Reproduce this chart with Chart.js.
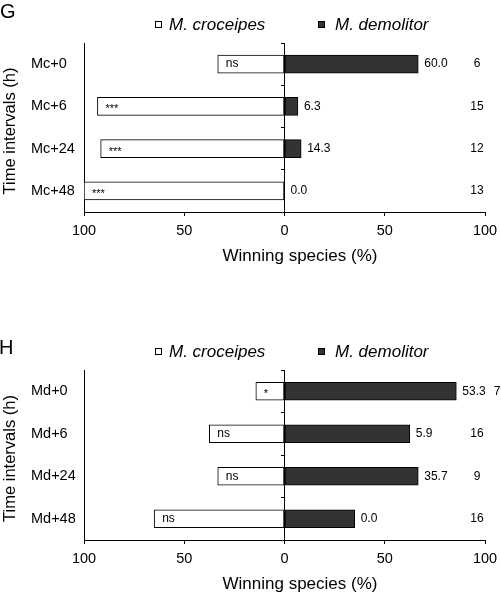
<!DOCTYPE html>
<html>
<head>
<meta charset="utf-8">
<script src="https://cdn.jsdelivr.net/npm/chart.js@4"></script>
<style>
  html, body { margin: 0; padding: 0; background: #fff; }
  #wrap { position: relative; width: 501px; height: 600px; }
  canvas { position: absolute; left: 0; }
</style>
</head>
<body>
<div id="wrap">
  <canvas id="chartG" width="501" height="300" style="top:0"></canvas>
  <canvas id="chartH" width="501" height="300" style="top:300px"></canvas>
</div>
<script>
// series names
const seriesNames = ['M. croceipes', 'M. demolitor'];

// panel G
const catsG = ['Mc+0', 'Mc+6', 'Mc+24', 'Mc+48'];
const crocG = [33.3, 93.3, 91.7, 100];
const demoG = [66.7, 6.7, 8.3, 0];
const valLabelsG = ['60.0', '6.3', '14.3', '0.0'];
const countsG = [6, 15, 12, 13];
const sigG = ['ns', '***', '***', '***'];

// panel H
const catsH = ['Md+0', 'Md+6', 'Md+24', 'Md+48'];
const crocH = [14.3, 37.5, 33.3, 65];
const demoH = [85.7, 62.5, 66.7, 35];
const valLabelsH = ['53.3', '5.9', '35.7', '0.0'];
const countsH = [7, 16, 9, 16];
const sigH = ['*', 'ns', 'ns', 'ns'];

// x axis ticks (left side shown as positive)
const xTicks = [-100, -50, 0, 50, 100];

const FAM = "'Liberation Sans', Arial, sans-serif";
Chart.defaults.font.family = FAM;
Chart.defaults.color = '#000';

// labels, legend, axis titles and panel letter
const annotPlugin = {
  id: 'annot',
  afterDraw(chart, args, opts) {
    const {ctx, chartArea} = chart;
    const xs = chart.scales.x;
    const metaC = chart.getDatasetMeta(0);
    const metaD = chart.getDatasetMeta(1);
    ctx.save();
    ctx.fillStyle = '#000';
    ctx.textBaseline = 'middle';

    opts.values.forEach((txt, i) => {
      const bar = metaD.data[i];
      ctx.font = '12px ' + FAM;
      ctx.textAlign = 'left';
      const vx = bar.x + 6;
      ctx.fillText(txt, vx, bar.y);
      const vEnd = vx + ctx.measureText(txt).width;
      const nTxt = String(opts.counts[i]);
      const nw = ctx.measureText(nTxt).width;
      const nx = Math.max(xs.getPixelForValue(96), vEnd + 8 + nw / 2);
      ctx.textAlign = 'center';
      ctx.fillText(nTxt, nx, bar.y);

      const cb = metaC.data[i];
      const s = opts.sig[i];
      const star = s.startsWith('*');
      ctx.font = (star ? '11px ' : '12px ') + FAM;
      ctx.textAlign = 'left';
      ctx.fillText(s, cb.x + 8, bar.y + (star ? 3 : 0));
    });

    // legend
    const ly = chartArea.top - 13.5;
    const boxX = [155, 318];
    const textX = [169, 335];
    chart.data.datasets.forEach((ds, i) => {
      const by = Math.round(ly - 8.5);
      ctx.fillStyle = ds.backgroundColor;
      ctx.fillRect(boxX[i], by, 7, 7);
      ctx.strokeStyle = '#000';
      ctx.lineWidth = 1;
      ctx.strokeRect(boxX[i] + 0.5, by + 0.5, 6, 6);
      ctx.fillStyle = '#000';
      ctx.font = 'italic 17px ' + FAM;
      ctx.textAlign = 'left';
      ctx.textBaseline = 'alphabetic';
      ctx.fillText(ds.label, textX[i], ly);
    });

    // axis titles
    ctx.textBaseline = 'middle';
    ctx.textAlign = 'center';
    ctx.font = '17px ' + FAM;
    ctx.fillText('Winning species (%)', chartArea.left + 216, chartArea.bottom + 44.5);
    ctx.save();
    ctx.translate(10, (chartArea.top + chartArea.bottom) / 2 + 3.5);
    ctx.rotate(-Math.PI / 2);
    ctx.font = '16.5px ' + FAM;
    ctx.fillText('Time intervals (h)', 0, 0);
    ctx.restore();

    // panel letter
    ctx.textAlign = 'left';
    ctx.textBaseline = 'alphabetic';
    ctx.font = '20px ' + FAM;
    ctx.fillText(opts.letter, opts.letterX, opts.letterY);
    ctx.restore();
  }
};

function makeChart(id, cats, croc, demo, values, counts, sig, letter, letterX, letterY, padTop, padBottom) {
  return new Chart(document.getElementById(id), {
    type: 'bar',
    data: {
      labels: cats,
      datasets: [{
        label: seriesNames[0],
        data: croc.map(v => -v),
        backgroundColor: '#ffffff',
        borderColor: '#000',
        borderWidth: 1,
        borderSkipped: false,
        barThickness: 18,
        grouped: false,
        xAxisID: 'x',
        yAxisID: 'y'
      }, {
        label: seriesNames[1],
        data: demo,
        backgroundColor: '#333333',
        borderColor: '#000',
        borderWidth: 1,
        borderSkipped: false,
        barThickness: 18,
        grouped: false,
        xAxisID: 'x',
        yAxisID: 'y'
      }]
    },
    options: {
      indexAxis: 'y',
      responsive: false,
      animation: false,
      layout: { padding: { left: 31, right: 16, top: padTop, bottom: padBottom } },
      scales: {
        x: {
          min: -100,
          max: 100,
          afterBuildTicks: s => { s.ticks = xTicks.map(v => ({ value: v })); },
          afterFit: s => { s.paddingLeft = 0; s.paddingRight = 0; },
          ticks: {
            callback: v => Math.abs(v),
            font: { size: 14.5 },
            padding: 6,
            maxRotation: 0
          },
          grid: { drawOnChartArea: false, tickLength: 4, color: '#000' },
          border: { display: true, color: '#000' }
        },
        y: {
          afterFit: s => { s.width = 53; s.paddingTop = 0; s.paddingBottom = 0; },
          ticks: { font: { size: 14.5 }, crossAlign: 'far' },
          grid: { drawOnChartArea: false, drawTicks: false },
          border: { display: true, color: '#000' }
        },
        y2: {
          type: 'category',
          axis: 'y',
          position: { x: 0 },
          offset: true,
          afterFit: s => { s.paddingTop = 0; s.paddingBottom = 0; },
          ticks: { display: false },
          grid: { offset: true, drawOnChartArea: false, tickLength: 3, color: '#000' },
          border: { display: true, color: '#000' }
        }
      },
      plugins: {
        legend: { display: false },
        tooltip: { enabled: false },
        annot: { values, counts, sig, letter, letterX, letterY }
      }
    },
    plugins: [annotPlugin]
  });
}

makeChart('chartG', catsG, crocG, demoG, valLabelsG, countsG, sigG, 'G', 0, 17.5, 43, 54.6);
makeChart('chartH', catsH, crocH, demoH, valLabelsH, countsH, sigH, 'H', -1, 54, 70, 26.6);
</script>
</body>
</html>
